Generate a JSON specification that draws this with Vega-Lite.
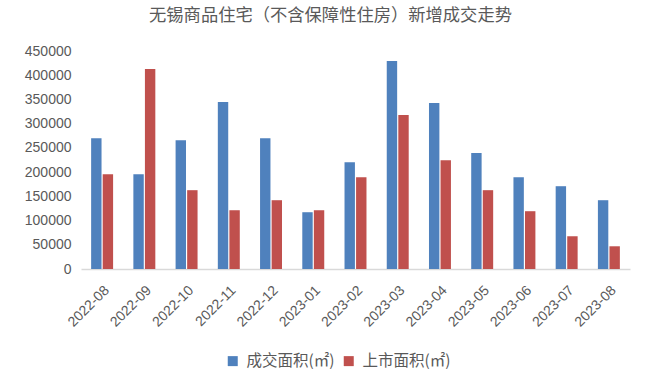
{
  "$schema": "https://vega.github.io/schema/vega-lite/v6.json",
  "autosize": "none",
  "width": 549,
  "height": 218,
  "padding": {"left": 81, "top": 51, "right": 20, "bottom": 107},
  "background": "white",
  "title": {
    "text": "无锡商品住宅（不含保障性住房）新增成交走势",
    "font": "Noto Sans CJK SC",
    "fontSize": 17.3,
    "fontWeight": "normal",
    "color": "#595959",
    "anchor": "middle",
    "dx": -25,
    "offset": 20
  },
  "data": {
    "values": [
      {"month": "2022-08", "type": "成交面积(㎡)", "value": 270000},
      {"month": "2022-08", "type": "上市面积(㎡)", "value": 195700},
      {"month": "2022-09", "type": "成交面积(㎡)", "value": 195700},
      {"month": "2022-09", "type": "上市面积(㎡)", "value": 412800},
      {"month": "2022-10", "type": "成交面积(㎡)", "value": 266000},
      {"month": "2022-10", "type": "上市面积(㎡)", "value": 162700},
      {"month": "2022-11", "type": "成交面积(㎡)", "value": 344600},
      {"month": "2022-11", "type": "上市面积(㎡)", "value": 121300},
      {"month": "2022-12", "type": "成交面积(㎡)", "value": 270000},
      {"month": "2022-12", "type": "上市面积(㎡)", "value": 142000},
      {"month": "2023-01", "type": "成交面积(㎡)", "value": 117200},
      {"month": "2023-01", "type": "上市面积(㎡)", "value": 121300},
      {"month": "2023-02", "type": "成交面积(㎡)", "value": 220500},
      {"month": "2023-02", "type": "上市面积(㎡)", "value": 189500},
      {"month": "2023-03", "type": "成交面积(㎡)", "value": 429300},
      {"month": "2023-03", "type": "上市面积(㎡)", "value": 317700},
      {"month": "2023-04", "type": "成交面积(㎡)", "value": 342500},
      {"month": "2023-04", "type": "上市面积(㎡)", "value": 224700},
      {"month": "2023-05", "type": "成交面积(㎡)", "value": 239200},
      {"month": "2023-05", "type": "上市面积(㎡)", "value": 162700},
      {"month": "2023-06", "type": "成交面积(㎡)", "value": 189500},
      {"month": "2023-06", "type": "上市面积(㎡)", "value": 119300},
      {"month": "2023-07", "type": "成交面积(㎡)", "value": 170900},
      {"month": "2023-07", "type": "上市面积(㎡)", "value": 67600},
      {"month": "2023-08", "type": "成交面积(㎡)", "value": 142000},
      {"month": "2023-08", "type": "上市面积(㎡)", "value": 46900}
    ]
  },
  "mark": {"type": "bar"},
  "encoding": {
    "x": {
      "field": "month",
      "type": "nominal",
      "sort": null,
      "scale": {"paddingInner": 0.48, "paddingOuter": 0.24},
      "axis": {
        "title": null,
        "labelAngle": -45,
        "labelFont": "Liberation Sans",
        "labelFontSize": 14,
        "labelColor": "#595959",
        "ticks": false,
        "labelPadding": 14,
        "domainColor": "#D9D9D9",
        "domainWidth": 1.5
      }
    },
    "xOffset": {
      "field": "type",
      "type": "nominal",
      "sort": ["成交面积(㎡)", "上市面积(㎡)"],
      "scale": {"paddingInner": 0.1}
    },
    "y": {
      "field": "value",
      "type": "quantitative",
      "scale": {"domain": [0, 450000], "nice": false},
      "axis": {
        "title": null,
        "values": [0, 50000, 100000, 150000, 200000, 250000, 300000, 350000, 400000, 450000],
        "format": "d",
        "grid": false,
        "domain": false,
        "ticks": false,
        "labelFont": "Liberation Sans",
        "labelFontSize": 14,
        "labelColor": "#595959",
        "labelPadding": 10
      }
    },
    "color": {
      "field": "type",
      "type": "nominal",
      "sort": ["成交面积(㎡)", "上市面积(㎡)"],
      "scale": {"range": ["#4F81BD", "#C0504D"]},
      "legend": {
        "title": null,
        "orient": "none",
        "direction": "horizontal",
        "legendX": 144,
        "legendY": 302,
        "symbolType": "square",
        "symbolSize": 100,
        "symbolStrokeWidth": 0,
        "labelFont": "Noto Sans CJK SC",
        "labelFontSize": 15.5,
        "labelColor": "#595959",
        "labelOffset": 6,
        "columnPadding": 6
      }
    }
  },
  "config": {"view": {"stroke": null}}
}
